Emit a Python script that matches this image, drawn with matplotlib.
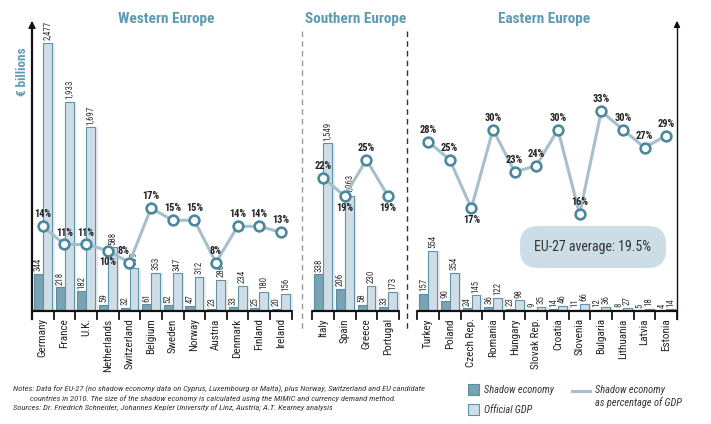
import matplotlib
matplotlib.use("Agg")
import matplotlib.pyplot as plt
from matplotlib import font_manager
from matplotlib.patches import FancyBboxPatch, Rectangle
from matplotlib.lines import Line2D

# --- data --------------------------------------------------------------
west_names = ["Germany", "France", "U.K.", "Netherlands", "Switzerland", "Belgium",
              "Sweden", "Norway", "Austria", "Denmark", "Finland", "Ireland"]
west_shadow = [344, 218, 182, 59, 32, 61, 52, 47, 23, 33, 25, 20]
west_gdp = [2477, 1933, 1697, 588, 399, 353, 347, 312, 286, 234, 180, 156]
west_pct = [14, 11, 11, 10, 8, 17, 15, 15, 8, 14, 14, 13]

south_names = ["Italy", "Spain", "Greece", "Portugal"]
south_shadow = [338, 206, 58, 33]
south_gdp = [1549, 1063, 230, 173]
south_pct = [22, 19, 25, 19]

east_names = ["Turkey", "Poland", "Czech Rep.", "Romania", "Hungary", "Slovak Rep.",
              "Croatia", "Slovenia", "Bulgaria", "Lithuania", "Latvia", "Estonia"]
east_shadow = [157, 90, 24, 36, 23, 9, 14, 11, 12, 8, 5, 4]
east_gdp = [554, 354, 145, 122, 98, 35, 46, 66, 36, 27, 18, 14]
east_pct = [28, 25, 17, 30, 23, 24, 30, 16, 33, 30, 27, 29]

# labels drawn under the marker instead of above
below = {"Netherlands", "Czech Rep.", "Spain", "Portugal"}
# small sideways nudges (points) for crowded labels
nudge = {"Switzerland": -4}

region_titles = ["Western Europe", "Southern Europe", "Eastern Europe"]
eu_average = "EU-27 average: 19.5%"

W, H = 711, 424


def find_narrow():
    """Look for an installed narrow/condensed sans face."""
    entries = font_manager.fontManager.ttflist
    for want in ["Liberation Sans Narrow", "Roboto Condensed", "Open Sans Condensed"]:
        for f in entries:
            if f.name == want:
                return f.name, "normal", True
    for fam in ["DejaVu Sans", "Noto Sans", "Open Sans", "Roboto"]:
        for f in entries:
            if f.name == fam and f.stretch in ("condensed", "semi-condensed"):
                return f.name, "condensed", True
    return "DejaVu Sans", "normal", False


FAMILY, STRETCH, NARROW_OK = find_narrow()
plt.rcParams["font.family"] = [FAMILY, "DejaVu Sans"]
plt.rcParams["font.stretch"] = STRETCH
K = 1.0 if NARROW_OK else 0.82  # shrink text when only a wide face exists

TEAL = "#5f9ab3"
DARK_BAR = "#79a2b2"
DARK_EDGE = "#5b8ea2"
LIGHT_BAR = "#cfdee6"
LIGHT_EDGE = "#5f93a7"
LINE = "#a6c0cb"
MARK = "#4b879d"
SHADOW = "#e8ebed"


def fx(x):
    return x / W


def fy(y):
    return (H - y) / H


fig = plt.figure(figsize=(W / 100, H / 100), dpi=100)
fig.patch.set_facecolor("white")

# axes span: x 32..677 px, y 20..311 px
ax = fig.add_axes([fx(32), fy(311), fx(677) - fx(32), (311 - 20) / H])
ax.set_xlim(0, 29.8)
ax.set_ylim(0, 2689)
ax.axis("off")
ax2 = ax.twinx()
ax2.set_ylim(0, 48.1)
ax2.axis("off")

regions = [
    (0.0, west_names, west_shadow, west_gdp, west_pct),
    (12.95, south_names, south_shadow, south_gdp, south_pct),
    (17.8, east_names, east_shadow, east_gdp, east_pct),
]

xt = ax.get_xaxis_transform()
tick_len = 8 / 291

for start, names, shadow, gdp, pct in regions:
    n = len(names)
    xs = [start + i for i in range(n)]
    # soft drop shadow behind the bars
    ax.bar([x + 0.715 + 0.12 for x in xs], gdp, width=0.41, color=SHADOW,
           linewidth=0, zorder=1)
    ax.bar([x + 0.30 for x in xs], shadow, width=0.42, color=DARK_BAR,
           edgecolor=DARK_EDGE, linewidth=0.8, zorder=2)
    ax.bar([x + 0.715 for x in xs], gdp, width=0.41, color=LIGHT_BAR,
           edgecolor=LIGHT_EDGE, linewidth=0.8, zorder=2)
    for x, s, g in zip(xs, shadow, gdp):
        ax.annotate(f"{s:,}", (x + 0.30, s), xytext=(0, 2), textcoords="offset points",
                    rotation=90, ha="center", va="bottom", fontsize=6.4 * K, color="#333333")
        ax.annotate(f"{g:,}", (x + 0.715, g), xytext=(0, 2), textcoords="offset points",
                    rotation=90, ha="center", va="bottom", fontsize=6.4 * K, color="#333333")

    # baseline + separator ticks
    ax.plot([start, start + n], [0, 0], color="#111111", lw=1.6, zorder=3,
            solid_capstyle="butt", clip_on=False)
    for b in range(n + 1):
        ax.plot([start + b, start + b], [0, -tick_len], transform=xt,
                color="#111111", lw=1.3, clip_on=False)
    for x, name in zip(xs, names):
        ax.text(x + 0.5, -0.025, name, transform=xt, rotation=90, ha="center",
                va="top", fontsize=8 * K, color="#222222")

    # shadow economy share line
    mx = [x + 0.5 for x in xs]
    ax2.plot(mx, pct, color=LINE, lw=2.2, zorder=4, solid_capstyle="round")
    ax2.plot(mx, pct, linestyle="none", marker="o", markersize=7,
             markerfacecolor="white", markeredgecolor=MARK, markeredgewidth=1.9,
             zorder=5)
    for x, p, name in zip(mx, pct, names):
        dx = nudge.get(name, 0)
        if name in below:
            ax2.annotate(f"{p}%", (x, p), xytext=(dx, -5), textcoords="offset points",
                         ha="center", va="top", fontsize=7.5 * K, color="#222222",
                         fontweight="bold", zorder=6)
        else:
            ax2.annotate(f"{p}%", (x, p), xytext=(dx, 5), textcoords="offset points",
                         ha="center", va="bottom", fontsize=7.5 * K, color="#222222",
                         fontweight="bold", zorder=6)

# region titles
for title, cx in zip(region_titles, [166, 356, 544]):
    fig.text(fx(cx), fy(19), title, ha="center", va="center", fontsize=11 * K,
             fontweight="bold", color=TEAL)

fig.text(fx(22), fy(72), "€ billions", rotation=90, ha="center", va="center",
         fontsize=9.5 * K, fontweight="bold", color=TEAL)

# axes arrows
fig.add_artist(Line2D([fx(32), fx(32)], [fy(319), fy(26)], color="#111111", lw=1.6))
ax.annotate("", xy=(32, H - 18), xytext=(32, H - 30), xycoords="figure pixels",
            textcoords="figure pixels",
            arrowprops=dict(arrowstyle="-|>", color="#111111", lw=1.2, mutation_scale=10))
fig.add_artist(Line2D([fx(677), fx(677)], [fy(319), fy(26)], color="#111111", lw=1.0))
ax.annotate("", xy=(677, H - 18), xytext=(677, H - 30), xycoords="figure pixels",
            textcoords="figure pixels",
            arrowprops=dict(arrowstyle="-|>", color="#111111", lw=1.0, mutation_scale=9))

# dashed separators
fig.add_artist(Line2D([fx(302), fx(302)], [fy(31), fy(330)], color="#9a9a9a",
                      lw=1.0, dashes=(4, 3)))
fig.add_artist(Line2D([fx(407), fx(407)], [fy(31), fy(330)], color="#333333",
                      lw=1.0, dashes=(4, 3)))

# EU-27 average box
box = FancyBboxPatch((520, H - 268), 146, 42, boxstyle="round,pad=0,rounding_size=18",
                     transform=None, facecolor="#cddde6", edgecolor="none", zorder=6)
fig.add_artist(box)
fig.text(fx(593), fy(247), eu_average, ha="center", va="center", fontsize=10 * K,
         color="#333333", zorder=7)

# legend
fig.add_artist(Rectangle((fx(468), fy(395)), fx(11), 11 / H, transform=fig.transFigure,
                         facecolor=DARK_BAR, edgecolor=DARK_EDGE, lw=0.8))
fig.add_artist(Rectangle((fx(468), fy(415)), fx(11), 11 / H, transform=fig.transFigure,
                         facecolor=LIGHT_BAR, edgecolor=LIGHT_EDGE, lw=0.8))
leg_style = dict(ha="left", va="center", fontsize=7.5 * K, style="italic", color="#333333")
fig.text(fx(484), fy(390), "Shadow economy", **leg_style)
fig.text(fx(484), fy(410), "Official GDP", **leg_style)
fig.add_artist(Line2D([fx(572), fx(590)], [fy(391), fy(391)], color=LINE, lw=2.2))
fig.text(fx(595), fy(390), "Shadow economy", **leg_style)
fig.text(fx(595), fy(403), "as percentage of GDP", **leg_style)

# notes
notes_style = dict(ha="left", va="center", fontsize=6.1 * K, style="italic", color="#333333")
fig.text(fx(13), fy(389), "Notes: Data for EU-27 (no shadow economy data on Cyprus, "
         "Luxembourg or Malta), plus Norway, Switzerland and EU candidate", **notes_style)
fig.text(fx(30), fy(398.5), "countries in 2010. The size of the shadow economy is calculated "
         "using the MIMIC and currency demand method.", **notes_style)
fig.text(fx(13), fy(408), "Sources: Dr. Friedrich Schneider, Johannes Kepler University "
         "of Linz, Austria; A.T. Kearney analysis", **notes_style)

fig.savefig("out.png", dpi=100, facecolor="white")
